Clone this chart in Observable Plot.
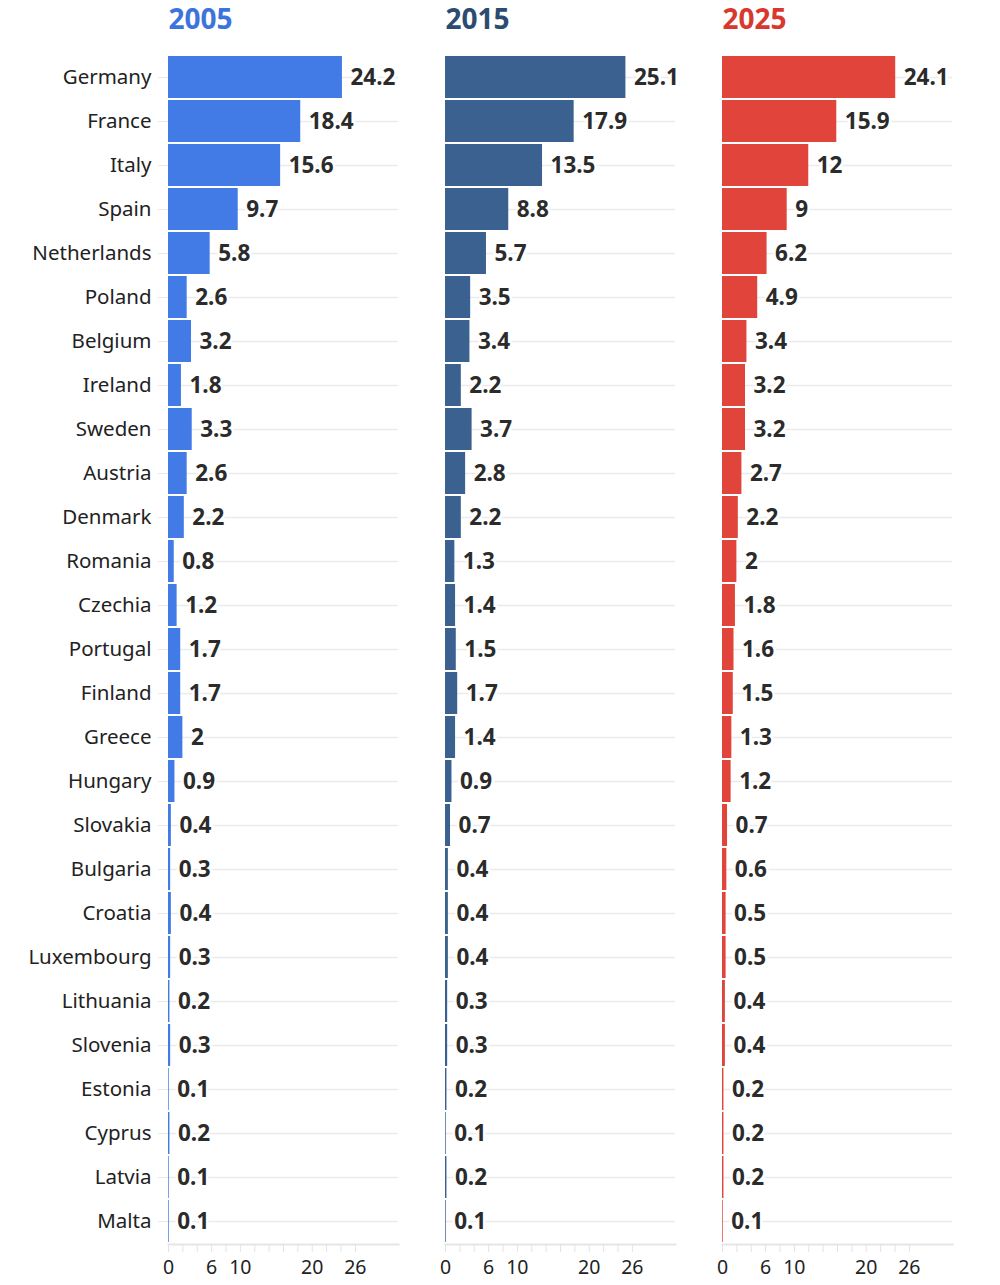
<!DOCTYPE html>
<html><head><meta charset="utf-8">
<script src="https://cdn.jsdelivr.net/npm/d3@7"></script>
<script src="https://cdn.jsdelivr.net/npm/@observablehq/plot@0.6"></script>
<style>body{margin:0;background:#fff;font-family:"Noto Sans",sans-serif}</style>
</head><body><div id="chart"></div>
<script>
const years = ["2005", "2015", "2025"];
const countries = ["Germany","France","Italy","Spain","Netherlands","Poland","Belgium","Ireland","Sweden","Austria","Denmark","Romania","Czechia","Portugal","Finland","Greece","Hungary","Slovakia","Bulgaria","Croatia","Luxembourg","Lithuania","Slovenia","Estonia","Cyprus","Latvia","Malta"];
const v2005 = [24.2,18.4,15.6,9.7,5.8,2.6,3.2,1.8,3.3,2.6,2.2,0.8,1.2,1.7,1.7,2,0.9,0.4,0.3,0.4,0.3,0.2,0.3,0.1,0.2,0.1,0.1];
const v2015 = [25.1,17.9,13.5,8.8,5.7,3.5,3.4,2.2,3.7,2.8,2.2,1.3,1.4,1.5,1.7,1.4,0.9,0.7,0.4,0.4,0.4,0.3,0.3,0.2,0.1,0.2,0.1];
const v2025 = [24.1,15.9,12,9,6.2,4.9,3.4,3.2,3.2,2.7,2.2,2,1.8,1.6,1.5,1.3,1.2,0.7,0.6,0.5,0.5,0.4,0.4,0.2,0.2,0.2,0.1];
const barColors = ["#437be6", "#3a6190", "#e0443a"];
const titleColors = ["#3b74dd", "#2b4b70", "#d8392e"];
const xTicks = d3.range(0, 27, 2);
const xTickLabels = [0, 6, 10, 20, 26];

const series = [v2005, v2015, v2025];
const rows = years.flatMap((yr, i) => countries.map((c, j) => ({year: yr, country: c, value: series[i][j]})));

const chart = Plot.plot({
  width: 1000, height: 1285,
  marginTop: 54, marginBottom: 41, marginLeft: 167, marginRight: 46,
  style: {fontFamily: '"Noto Sans", sans-serif', fontSize: "20px", color: "#222", background: "#fff"},
  fx: {domain: years, paddingInner: 0.169, paddingOuter: 0, axis: null, label: null},
  x: {domain: [0, 32], axis: null, label: null},
  y: {domain: countries, range: [54, 1244], paddingInner: 0.05, paddingOuter: 0, axis: null, label: null},
  color: {domain: years, range: barColors},
  marks: [
    Plot.gridY({stroke: "#ebebeb", strokeOpacity: 1, strokeWidth: 1.5}),
    Plot.axisY({tickSize: 10, tickPadding: 7, stroke: "#e8e8e8", strokeOpacity: 1, fill: "#222", fontSize: 20.5, label: null}),
    Plot.barX(rows, {fx: "year", y: "country", x: "value", fill: "year"}),
    Plot.text(rows, {fx: "year", y: "country", x: "value", text: d => String(d.value), dx: 8, textAnchor: "start", fontWeight: "bold", fontSize: 22.5, fill: "#2b2b2b", stroke: "white", strokeWidth: 5}),
    Plot.frame({anchor: "bottom", stroke: "#e6e6e6", strokeWidth: 2}),
    Plot.axisX({ticks: xTicks, tickSize: 8, tickPadding: 8, stroke: "#e3e3e3", strokeOpacity: 1, tickFormat: d => xTickLabels.includes(d) ? String(d) : "", fill: "#222", fontSize: 19.5, label: null}),
    ...years.map((yr, i) => Plot.text([yr], {fx: d => d, text: d => d, frameAnchor: "top-left", dy: -45, fill: titleColors[i], fontWeight: "bold", fontSize: 28, textAnchor: "start"}))
  ]
});
document.getElementById("chart").append(chart);
</script>
</body></html>
